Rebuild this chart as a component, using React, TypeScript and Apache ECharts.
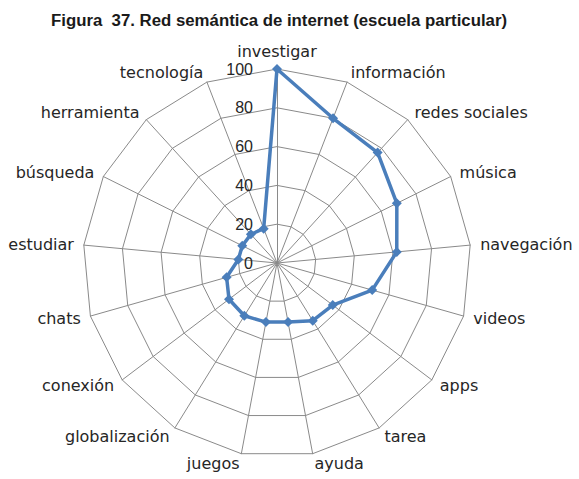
import React, { useEffect, useRef } from "react";
import * as echarts from "echarts";

const titleText = "Figura  37. Red semántica de internet (escuela particular)";

// categories in clockwise order starting from the top
const categories = [
  "investigar",
  "información",
  "redes sociales",
  "música",
  "navegación",
  "videos",
  "apps",
  "tarea",
  "ayuda",
  "juegos",
  "globalización",
  "conexión",
  "chats",
  "estudiar",
  "búsqueda",
  "herramienta",
  "tecnología",
];

const values = [100, 80, 77, 69, 62, 51, 36, 35, 31, 31, 32, 31, 27, 20, 20, 20, 19];

const axisMin = 0;
const axisMax = 100;
const axisSplits = 5;

export default function App() {
  const ref = useRef<HTMLDivElement>(null);

  useEffect(() => {
    document.body.style.margin = "0";
    if (!ref.current) return;
    const chart = echarts.init(ref.current, undefined, { renderer: "svg" });

    // ECharts lays radar indicators counter-clockwise; reorder to get clockwise
    const order = [0, ...categories.map((_, i) => i).slice(1).reverse()];
    const indicator = order.map((idx, k) => ({
      name: categories[idx],
      min: axisMin,
      max: axisMax,
      ...(k === 0
        ? {
            axisLabel: {
              show: true,
            },
          }
        : {}),
    }));
    const data = order.map((idx) => values[idx]);

    chart.setOption({
      animation: false,
      backgroundColor: "#ffffff",
      title: {
        text: titleText,
        left: 46,
        top: 7,
        textStyle: {
          fontFamily: "Liberation Sans, Arial, sans-serif",
          fontSize: 16.8,
          fontWeight: "bold",
          color: "#1a1a1a",
        },
      },
      radar: {
        center: [277, 263],
        radius: 194,
        startAngle: 90,
        shape: "polygon",
        splitNumber: axisSplits,
        nameGap: 10,
        axisName: {
          color: "#262626",
          fontSize: 16,
          fontFamily: "DejaVu Sans, sans-serif",
        },
        axisLine: { lineStyle: { color: "#8a8a8a", width: 1 } },
        splitLine: { lineStyle: { color: "#8a8a8a", width: 1 } },
        splitArea: { show: false },
        axisTick: { show: false },
        axisLabel: {
          show: false,
          color: "#262626",
          fontSize: 16,
          fontFamily: "Liberation Sans, Arial, sans-serif",
          margin: 24,
        },
        indicator,
      },
      series: [
        {
          type: "radar",
          symbol: "diamond",
          symbolSize: 10,
          lineStyle: { color: "#4a7ebb", width: 3.5 },
          itemStyle: { color: "#4a7ebb" },
          data: [{ value: data, name: "internet" }],
        },
      ],
    });

    return () => chart.dispose();
  }, []);

  return <div ref={ref} style={{ width: 579, height: 479 }} />;
}
